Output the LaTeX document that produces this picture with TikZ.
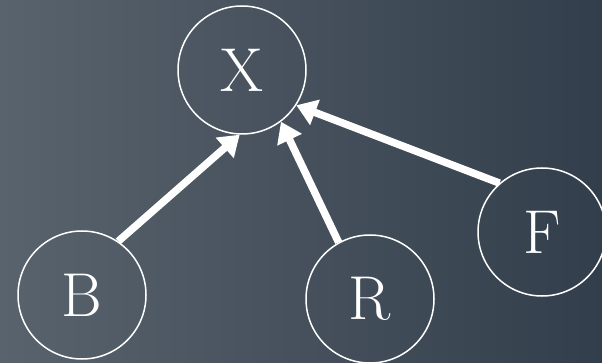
\documentclass[tikz,border=0pt]{standalone}
\usetikzlibrary{arrows.meta}
\definecolor{bgleft}{RGB}{88,99,109}
\definecolor{bgright}{RGB}{51,62,76}
\begin{document}
\begin{tikzpicture}[x=1pt,y=-1pt,
  var/.style={circle,draw=white,line width=1.5pt,minimum size=128pt,inner sep=0pt,
    text=white,font=\fontsize{62}{62}\selectfont},
  link/.style={white,line width=7.5pt,-{Triangle[length=20pt,width=26pt]}}]
\shade[left color=bgleft,right color=bgright] (0,0) rectangle (602,363);
\useasboundingbox (0,0) rectangle (602,363);
\node[var] (X) at (242,70) {X};
\node[var] (B) at (82,295) {B};
\node[var] (R) at (370,299) {R};
\node[var] (F) at (542,232) {F};
\draw[link] (B.56) -- (X.268);
\draw[link] (R.119) -- (X.307);
\draw[link] (F.131) -- (X.327);
\end{tikzpicture}
\end{document}
